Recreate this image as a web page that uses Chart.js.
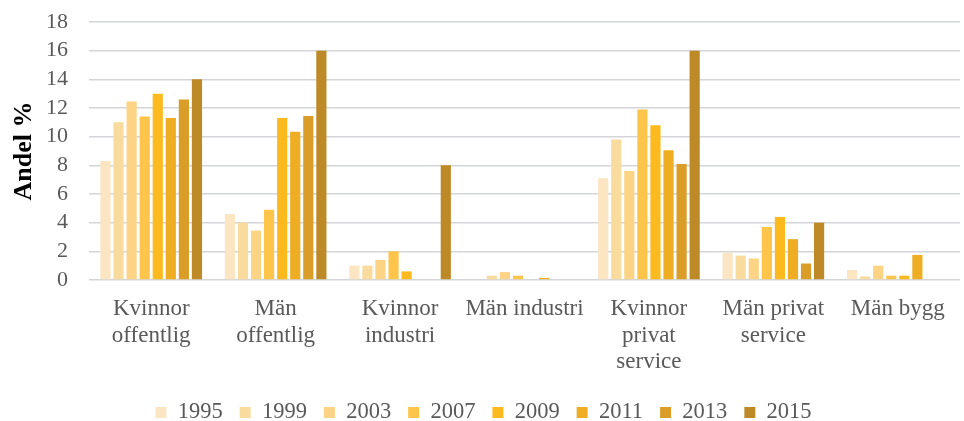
<!DOCTYPE html>
<html>
<head>
<meta charset="utf-8">
<script src="https://cdn.jsdelivr.net/npm/chart.js@4.4.1/dist/chart.umd.min.js"></script>
<style>
  html, body { margin: 0; padding: 0; background: #fff; }
  canvas { display: block; }
</style>
</head>
<body>
<canvas id="chart" width="964" height="421"></canvas>
<script>
// Kategorier (x-axel), flerradiga etiketter
const categories = [
    ['Kvinnor', 'offentlig'],
    ['Män', 'offentlig'],
    ['Kvinnor', 'industri'],
    'Män industri',
    ['Kvinnor', 'privat', 'service'],
    ['Män privat', 'service'],
    'Män bygg'
];

const years = ['1995', '1999', '2003', '2007', '2009', '2011', '2013', '2015'];

// Andel % per år, en siffra per kategori
const v1995 = [8.3, 4.6, 1.0, 0, 7.1, 1.9, 0.7];
const v1999 = [11.0, 4.0, 1.0, 0.3, 9.8, 1.7, 0.25];
const v2003 = [12.45, 3.45, 1.4, 0.55, 7.6, 1.5, 1.0];
const v2007 = [11.4, 4.9, 2.0, 0.3, 11.9, 3.7, 0.3];
const v2009 = [13.0, 11.3, 0.6, 0, 10.8, 4.4, 0.3];
const v2011 = [11.3, 10.35, 0, 0.15, 9.05, 2.85, 1.75];
const v2013 = [12.6, 11.45, 0, 0, 8.1, 1.15, 0];
const v2015 = [14.0, 16.0, 8.0, 0, 16.0, 4.0, 0];

const yearValues = [v1995, v1999, v2003, v2007, v2009, v2011, v2013, v2015];
const yearColors = ['#fbe5c2', '#fadb9e', '#fdd485', '#fec54a', '#fcba1e', '#eead22', '#d99d28', '#be8a28'];

const yTicks = [0, 2, 4, 6, 8, 10, 12, 14, 16, 18];

const serif = "'Liberation Serif', 'Times New Roman', serif";
const textColor = '#595959';

const datasets = years.map((y, i) => ({
    label: y,
    data: yearValues[i],
    backgroundColor: yearColors[i],
    borderWidth: 0,
    categoryPercentage: 0.84,
    barPercentage: 0.78
}));

const ctx = document.getElementById('chart').getContext('2d');
new Chart(ctx, {
    type: 'bar',
    data: {
        labels: categories,
        datasets: datasets
    },
    options: {
        responsive: false,
        animation: false,
        layout: {
            padding: { top: 22, right: 4, bottom: -12.75, left: 7 }
        },
        plugins: {
            tooltip: { enabled: false },
            legend: {
                position: 'bottom',
                labels: {
                    boxWidth: 11,
                    boxHeight: 11,
                    padding: 17,
                    color: textColor,
                    font: { family: serif, size: 22.5 }
                }
            }
        },
        scales: {
            x: {
                grid: { display: false, drawTicks: false },
                border: { display: false },
                ticks: {
                    color: textColor,
                    font: { family: serif, size: 23, lineHeight: 1.15 },
                    maxRotation: 0,
                    autoSkip: false,
                    padding: 16
                },
                afterFit: axis => { axis.height = 104.25; }
            },
            y: {
                min: 0,
                max: 18,
                afterBuildTicks: axis => {
                    axis.ticks = yTicks.map(v => ({ value: v }));
                },
                afterFit: axis => {
                    axis.width = 82;
                    axis.paddingTop = 0;
                    axis.paddingBottom = 0;
                },
                grid: { color: '#d3d5d8', lineWidth: 1.5, drawTicks: false },
                border: { display: false },
                ticks: {
                    color: textColor,
                    font: { family: serif, size: 22 },
                    autoSkip: false,
                    padding: 21
                },
                title: {
                    display: true,
                    text: 'Andel %',
                    color: '#000',
                    font: { family: serif, size: 26, weight: 'bold' },
                    padding: { top: 2, bottom: 0 }
                }
            }
        }
    }
});
</script>
</body>
</html>
